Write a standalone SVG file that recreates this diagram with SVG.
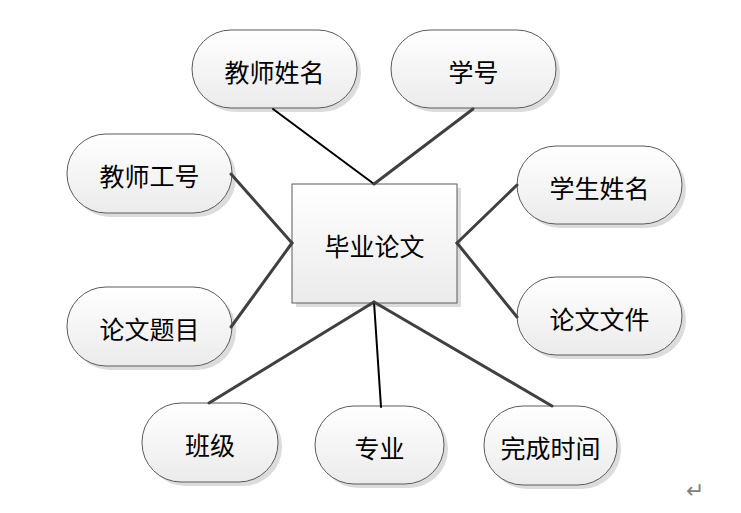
<svg xmlns="http://www.w3.org/2000/svg" xmlns:xlink="http://www.w3.org/1999/xlink" width="741" height="513" viewBox="0 0 741 513">
<defs>
<linearGradient id="g" x1="0" y1="0" x2="0" y2="1">
<stop offset="0" stop-color="#ffffff"/>
<stop offset="1" stop-color="#ebebeb"/>
</linearGradient>
</defs>
<style>
.sh{fill:#dcdcdc;stroke:none}
.bx{fill:url(#g);stroke:#5a5a5a;stroke-width:1}
.t{font-family:"Noto Sans CJK SC","Noto Sans CJK JP",sans-serif;font-size:25px;fill:#000;text-anchor:middle;dominant-baseline:central}
.c1{stroke:#000;stroke-width:2;fill:none;stroke-linecap:round}
.c2{stroke:#404040;stroke-width:3;fill:none;stroke-linecap:round}
</style>
<rect width="741" height="513" fill="#fff"/>
<g id="center">
<rect class="sh" x="296" y="188" width="165" height="119"/>
<rect class="bx" x="292" y="184" width="165" height="119"/>
<text class="t" x="374.5" y="245">毕业论文</text>
</g>
<g id="n1">
<rect class="sh" x="196" y="34" width="165" height="78" rx="39"/>
<rect class="bx" x="192" y="30" width="165" height="78" rx="39"/>
<text class="t" x="274.5" y="71">教师姓名</text>
</g>
<g id="n2">
<rect class="sh" x="395" y="34" width="165" height="78" rx="39"/>
<rect class="bx" x="391" y="30" width="165" height="78" rx="39"/>
<text class="t" x="473.5" y="71">学号</text>
</g>
<g id="n3">
<rect class="sh" x="71" y="138" width="165" height="79" rx="39"/>
<rect class="bx" x="67" y="134" width="165" height="79" rx="39"/>
<text class="t" x="149.5" y="175">教师工号</text>
</g>
<g id="n4">
<rect class="sh" x="521" y="150" width="165" height="78" rx="39"/>
<rect class="bx" x="517" y="146" width="165" height="78" rx="39"/>
<text class="t" x="599.5" y="187">学生姓名</text>
</g>
<g id="n5">
<rect class="sh" x="71" y="291" width="165" height="79" rx="39"/>
<rect class="bx" x="67" y="287" width="165" height="79" rx="39"/>
<text class="t" x="149.5" y="328">论文题目</text>
</g>
<g id="n6">
<rect class="sh" x="521" y="281" width="165" height="78" rx="39"/>
<rect class="bx" x="517" y="277" width="165" height="78" rx="39"/>
<text class="t" x="599.5" y="318">论文文件</text>
</g>
<g id="n7">
<rect class="sh" x="146" y="407" width="136" height="79" rx="39"/>
<rect class="bx" x="142" y="403" width="136" height="79" rx="39"/>
<text class="t" x="210" y="444">班级</text>
</g>
<g id="n8">
<rect class="sh" x="319" y="410" width="129" height="78" rx="39"/>
<rect class="bx" x="315" y="406" width="129" height="78" rx="39"/>
<text class="t" x="379.5" y="447">专业</text>
</g>
<g id="n9">
<rect class="sh" x="488" y="410" width="133" height="79" rx="39"/>
<rect class="bx" x="484" y="406" width="133" height="79" rx="39"/>
<text class="t" x="550.5" y="447">完成时间</text>
</g>
<g id="connectors">
<line class="c1" x1="273" y1="109" x2="374" y2="184"/>
<line class="c2" x1="473" y1="109" x2="374" y2="184"/>
<line class="c2" x1="231" y1="174" x2="292" y2="243"/>
<line class="c2" x1="231" y1="327" x2="292" y2="243"/>
<line class="c2" x1="517" y1="185" x2="457" y2="243"/>
<line class="c2" x1="517" y1="317" x2="457" y2="243"/>
<line class="c2" x1="209" y1="403" x2="374" y2="302"/>
<line class="c1" x1="381" y1="407" x2="374" y2="302"/>
<line class="c2" x1="552" y1="406" x2="374" y2="302"/>
</g>
<text x="695" y="490" font-family="DejaVu Sans, sans-serif" font-size="22" fill="#808080" text-anchor="middle" dominant-baseline="central">↵</text>
</svg>
